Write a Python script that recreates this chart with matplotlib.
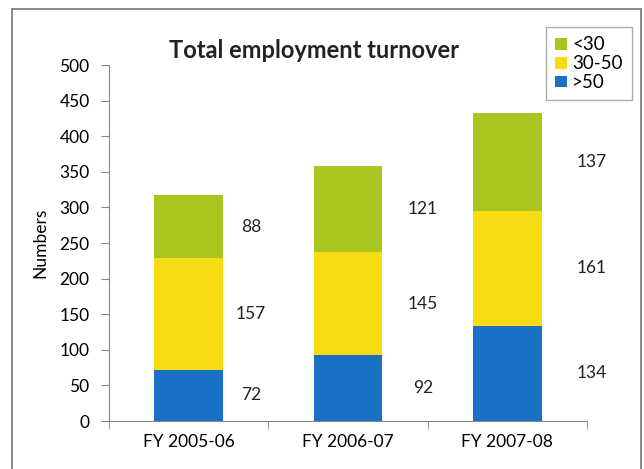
import numpy as np
import matplotlib.pyplot as plt
from matplotlib.patches import Rectangle

plt.rcParams['font.family'] = ['Lato', 'DejaVu Sans']

years = ['FY 2005-06', 'FY 2006-07', 'FY 2007-08']
over50 = [72, 92, 134]
mid = [157, 145, 161]
under30 = [88, 121, 137]

col_over50 = '#1a70c4'
col_mid = '#f7dc14'
col_under30 = '#a9c51f'

# how far right of each bar the value labels sit (in category units)
label_dx = [0.39, 0.47, 0.53]

fig = plt.figure(figsize=(6.44, 4.69), dpi=100)
ax = fig.add_axes([109 / 644, 48 / 469, 478 / 644, 356 / 469])

x = np.arange(len(years))
w = 0.43
b1 = ax.bar(x, over50, w, color=col_over50, label='>50')
b2 = ax.bar(x, mid, w, bottom=over50, color=col_mid, label='30-50')
bottom3 = np.array(over50) + np.array(mid)
b3 = ax.bar(x, under30, w, bottom=bottom3, color=col_under30, label='<30')

for i in range(len(years)):
    segs = [(0, over50[i]), (over50[i], mid[i]), (bottom3[i], under30[i])]
    for base, v in segs:
        ax.text(x[i] + label_dx[i], base + v / 2, str(v), ha='center', va='center',
                fontsize=12.5, color='#222222', clip_on=False)

ax.set_xlim(-0.5, 2.5)
ax.set_ylim(0, 500)
ax.set_yticks(range(0, 501, 50))
ax.set_xticks(x)
ax.set_xticklabels(years)
ax.set_xticks([-0.5, 0.5, 1.5, 2.5], minor=True)
ax.tick_params(axis='x', which='major', length=0, pad=9, labelsize=12.5)
ax.tick_params(axis='x', which='minor', length=6, color='#888888', direction='out')
ax.tick_params(axis='y', length=6, color='#888888', labelsize=12.5, pad=8)
ax.spines['top'].set_visible(False)
ax.spines['right'].set_visible(False)
ax.spines['left'].set_color('#888888')
ax.spines['bottom'].set_color('#888888')
ax.set_ylabel('Numbers', fontsize=12.5, labelpad=8)

fig.text(314 / 644, 1 - 51 / 469, 'Total employment turnover', ha='center', va='center',
         fontsize=17, fontweight='bold', color='#222222')

leg = fig.legend(handles=[b3, b2, b1], loc='upper right', bbox_to_anchor=(632 / 644, 1 - 27 / 469),
                 fontsize=13.5, frameon=True, fancybox=False, edgecolor='#999999',
                 handlelength=0.6, handleheight=0.6, handletextpad=0.3, labelspacing=0.1,
                 borderpad=0.5, borderaxespad=0)

# outer frame around the whole chart
fig.patches.append(Rectangle((12 / 644, -0.01), 629 / 644, 1 - 9 / 469 + 0.01,
                             transform=fig.transFigure, fill=False, edgecolor='#777777', lw=1.2))

fig.savefig('out.png', dpi=100)
